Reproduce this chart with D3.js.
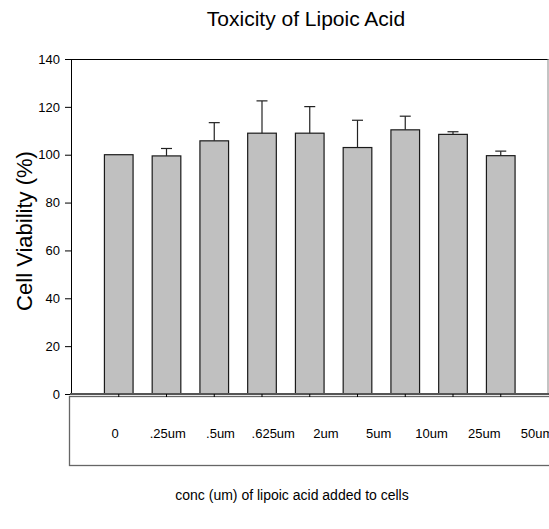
<!DOCTYPE html>
<html>
<head>
<meta charset="utf-8">
<script src="https://cdn.jsdelivr.net/npm/d3@7"></script>
<style>
  body { margin: 0; background: #fff; }
  text { font-family: "Liberation Sans", Arial, sans-serif; fill: #000; }
</style>
</head>
<body>
<svg id="chart"></svg>
<script>
const concLabels = ["0", ".25um", ".5um", ".625um", "2um", "5um", "10um", "25um", "50um"];
const viability = [100, 99.5, 105.8, 109, 109, 103, 110.4, 108.5, 99.6];
const errorUp = [0, 3.1, 7.6, 13.5, 11.1, 11.4, 5.7, 1.1, 1.9];
const yTicks = [0, 20, 40, 60, 80, 100, 120, 140];

const width = 549;
const height = 529;
const plotLeft = 71, plotRight = 548.5, plotTop = 59, plotBottom = 394;

const svg = d3.select("#chart")
    .attr("width", width)
    .attr("height", height);

// bars sit at slots 1..9 of a 10-slot axis
const xScale = d3.scaleLinear()
    .domain([0, concLabels.length + 1])
    .range([plotLeft, plotRight]);
const step = xScale(1) - xScale(0);
const barW = step * 0.6;

const yScale = d3.scaleLinear()
    .domain([0, 140])
    .range([plotBottom, plotTop]);

// category labels live in their own strip under the plot
const labelScale = d3.scalePoint()
    .domain(concLabels)
    .range([115, 537]);

// label strip box
svg.append("rect")
    .attr("x", 69.5)
    .attr("y", 396.5)
    .attr("width", 500)
    .attr("height", 69)
    .attr("fill", "none")
    .attr("stroke", "#666")
    .attr("stroke-width", 1.3);

// frame top + right
svg.append("line")
    .attr("x1", plotLeft).attr("x2", plotRight)
    .attr("y1", plotTop + 0.5).attr("y2", plotTop + 0.5)
    .attr("stroke", "#000");
svg.append("line")
    .attr("x1", plotRight - 0.5).attr("x2", plotRight - 0.5)
    .attr("y1", plotTop).attr("y2", plotBottom)
    .attr("stroke", "#888");

// y axis
const yAxis = d3.axisLeft(yScale)
    .tickValues(yTicks)
    .tickSize(6)
    .tickPadding(5);
const gy = svg.append("g")
    .attr("transform", `translate(${plotLeft}, 0)`)
    .call(yAxis);
gy.select(".domain").attr("stroke", "#000");
gy.selectAll(".tick line").attr("stroke", "#000");
gy.selectAll(".tick text")
    .style("font-size", "13px")
    .style("font-family", "'Liberation Sans', Arial, sans-serif");

// bars
svg.selectAll(".bar")
    .data(viability)
    .enter()
    .append("rect")
    .attr("class", "bar")
    .attr("x", (d, i) => xScale(i + 1) - barW / 2)
    .attr("y", d => yScale(d))
    .attr("width", barW)
    .attr("height", d => yScale(0) - yScale(d))
    .attr("fill", "#c0c0c0")
    .attr("stroke", "#1a1a1a")
    .attr("stroke-width", 1.2);

// upper error bars
const err = svg.selectAll(".err")
    .data(viability.map((v, i) => ({ v, e: errorUp[i], i })).filter(d => d.e > 0))
    .enter()
    .append("g")
    .attr("class", "err");
err.append("line")
    .attr("x1", d => xScale(d.i + 1)).attr("x2", d => xScale(d.i + 1))
    .attr("y1", d => yScale(d.v)).attr("y2", d => yScale(d.v + d.e))
    .attr("stroke", "#222")
    .attr("stroke-width", 1.2);
err.append("line")
    .attr("x1", d => xScale(d.i + 1) - 5.5).attr("x2", d => xScale(d.i + 1) + 5.5)
    .attr("y1", d => yScale(d.v + d.e)).attr("y2", d => yScale(d.v + d.e))
    .attr("stroke", "#222")
    .attr("stroke-width", 1.2);

// x axis line with small ticks at bar centres
svg.append("line")
    .attr("x1", plotLeft - 1).attr("x2", width)
    .attr("y1", plotBottom).attr("y2", plotBottom)
    .attr("stroke", "#555")
    .attr("stroke-width", 2);
svg.selectAll(".xtick")
    .data(viability)
    .enter()
    .append("line")
    .attr("class", "xtick")
    .attr("x1", (d, i) => xScale(i + 1)).attr("x2", (d, i) => xScale(i + 1))
    .attr("y1", plotBottom).attr("y2", plotBottom + 3)
    .attr("stroke", "#000");

// category labels
svg.selectAll(".cat")
    .data(concLabels)
    .enter()
    .append("text")
    .attr("class", "cat")
    .attr("x", d => labelScale(d))
    .attr("y", 438)
    .attr("text-anchor", "middle")
    .style("font-size", "13px")
    .text(d => d);

// titles
svg.append("text")
    .attr("x", 306)
    .attr("y", 26)
    .attr("text-anchor", "middle")
    .style("font-size", "21px")
    .text("Toxicity of Lipoic Acid");

svg.append("text")
    .attr("transform", "translate(32, 231) rotate(-90)")
    .attr("text-anchor", "middle")
    .style("font-size", "22px")
    .text("Cell Viability (%)");

svg.append("text")
    .attr("x", 292)
    .attr("y", 500)
    .attr("text-anchor", "middle")
    .style("font-size", "14px")
    .text("conc (um) of lipoic acid added to cells");
</script>
</body>
</html>
